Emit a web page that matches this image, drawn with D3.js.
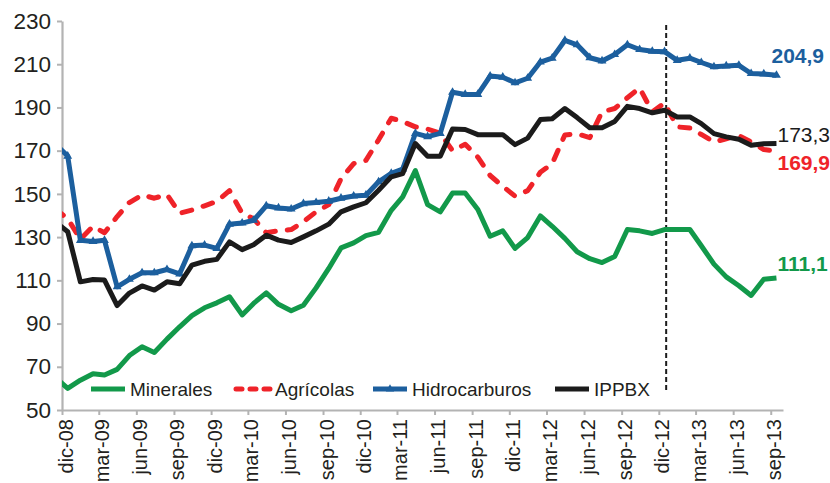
<!DOCTYPE html>
<html>
<head>
<meta charset="utf-8">
<script src="https://cdn.jsdelivr.net/npm/d3@7"></script>
<style>
  body { margin: 0; background: #fff; }
  text { font-family: "Liberation Sans", Arial, sans-serif; }
</style>
</head>
<body>
<div id="chart"></div>
<script>
// monthly series, nov-08 .. sep-13 (nov-08 sits left of the axis and gets clipped)
const months = ["nov-08","dic-08",
  "ene-09","feb-09","mar-09","abr-09","may-09","jun-09","jul-09","ago-09","sep-09","oct-09","nov-09","dic-09",
  "ene-10","feb-10","mar-10","abr-10","may-10","jun-10","jul-10","ago-10","sep-10","oct-10","nov-10","dic-10",
  "ene-11","feb-11","mar-11","abr-11","may-11","jun-11","jul-11","ago-11","sep-11","oct-11","nov-11","dic-11",
  "ene-12","feb-12","mar-12","abr-12","may-12","jun-12","jul-12","ago-12","sep-12","oct-12","nov-12","dic-12",
  "ene-13","feb-13","mar-13","abr-13","may-13","jun-13","jul-13","ago-13","sep-13"];

const minerales = [65, 60, 63.8, 66.8, 66.2, 68.8, 75.2, 79.3, 76.6, 82.8, 88.5, 93.7, 97.3, 99.6,
  102.4, 94, 99.3, 104.2, 98.9, 95.9, 98.5, 106.5, 115.5, 125, 127.3, 130.7,
  132.2, 142.4, 148.6, 160.8, 145, 141.7, 150.4, 150.4, 142.8, 130.4, 132.9, 124.8,
  129.8, 139.8, 135, 129.4, 123.2, 120, 118.2, 121, 133.5, 132.9, 131.7, 133.5,
  133.5, 133.5, 126, 117.5, 111.6, 107.5, 103, 110.5, 111.1];

const agricolas = [143, 138.5, 129, 135, 132, 139.5, 146, 149.5, 148, 149.7, 141, 142.5, 144.5, 146.5,
  151.5, 141, 138.5, 132, 132.9, 133.5, 137.1, 141.7, 145, 157, 164, 165.5,
  175, 185, 183.5, 181, 180, 178, 170, 173, 167, 158.5, 153.5, 149,
  151.5, 160, 164, 177.3, 177.8, 176, 188, 189.5, 194.5, 199, 188, 192,
  181, 180.5, 177.5, 174, 175.5, 177, 174, 170.5, 169.9];

const hidrocarburos = [173, 167.5, 128.5, 128, 128.5, 107, 110.5, 113.5, 113.5, 115, 113, 126, 126.3, 124.8,
  136, 136.5, 137.8, 144.5, 143.5, 143, 145.5, 146, 146.6, 148, 149, 149.4,
  155.6, 159.5, 161.5, 178, 176.5, 178, 197, 196, 196, 204.5, 204, 201.4,
  203.5, 211, 212.8, 221, 219, 213, 211.5, 214.5, 219, 216.8, 216, 215.8,
  211.8, 212.8, 210.8, 208.8, 209.2, 209.5, 205.7, 205.5, 204.9];

const ippbx = [137, 132.5, 109.3, 110.4, 110.1, 98.3, 104.1, 107.4, 105.5, 109.3, 108.4, 117, 118.8, 119.7,
  127.8, 124.2, 126.5, 130.9, 128.6, 127.5, 130.1, 132.9, 136, 141.7, 144, 145.9,
  151.7, 157.9, 159.4, 173.3, 167.4, 167.4, 180, 179.8, 177.4, 177.4, 177.4, 172.8,
  175.8, 184.4, 184.8, 189.5, 185.3, 180.6, 180.6, 183.5, 190.5, 189.5, 187.5, 188.7,
  185.6, 185.6, 182.5, 177.9, 176.4, 175.3, 172.5, 173.2, 173.3];

const tickLabels = ["dic-08","mar-09","jun-09","sep-09","dic-09","mar-10","jun-10","sep-10","dic-10",
  "mar-11","jun-11","sep-11","dic-11","mar-12","jun-12","sep-12","dic-12","mar-13","jun-13","sep-13"];
const yTicks = [50, 70, 90, 110, 130, 150, 170, 190, 210, 230];

const axisStart = "dic-08", axisEnd = "oct-13", cutMonth = "dic-12";

const esMonths = ["ene","feb","mar","abr","may","jun","jul","ago","sep","oct","nov","dic"];
function parseMonth(s, day) {
    const parts = s.split("-");
    return new Date(2000 + +parts[1], esMonths.indexOf(parts[0]), day);
}

const series = [
    {name: "Minerales", values: minerales, color: "#12994a", label: "111,1", bold: true, dy: -7},
    {name: "Agrícolas", values: agricolas, color: "#ef2329", dash: true, label: "169,9", bold: true, dy: 19},
    {name: "Hidrocarburos", values: hidrocarburos, color: "#1c5f9e", marker: true, label: "204,9", bold: true, dy: -12, dx: -5},
    {name: "IPPBX", values: ippbx, color: "#1b1b1b", label: "173,3", bold: false, dy: -2}
];

const width = 830, height = 483;
const margin = {top: 21, left: 62, bottom: 73, right: 47};
const textColor = "#231f20";

const svg = d3.select("#chart").append("svg")
    .attr("width", width)
    .attr("height", height);

const x = d3.scaleTime()
    .domain([parseMonth(axisStart, 1), parseMonth(axisEnd, 1)])
    .range([margin.left, width - margin.right]);

const y = d3.scaleLinear()
    .domain([50, 230])
    .range([height - margin.bottom, margin.top]);

svg.append("clipPath").attr("id", "plotClip")
    .append("rect")
    .attr("x", margin.left).attr("y", 0)
    .attr("width", width - margin.right - margin.left + 10)
    .attr("height", height);

// axes
const yAxis = svg.append("g")
    .attr("transform", "translate(" + margin.left + ",0)")
    .call(d3.axisLeft(y).tickValues(yTicks).tickSize(5).tickSizeOuter(0).tickPadding(6));

const xAxis = svg.append("g")
    .attr("transform", "translate(0," + (height - margin.bottom) + ")")
    .call(d3.axisBottom(x)
        .tickValues(tickLabels.map(d => parseMonth(d, 1)))
        .tickFormat((d, i) => tickLabels[i])
        .tickSize(5).tickSizeOuter(0));

[xAxis, yAxis].forEach(function (a) {
    a.select(".domain").attr("stroke", "#b3b3b3").attr("stroke-width", 2.2);
    a.selectAll(".tick line").attr("stroke", "#b3b3b3").attr("stroke-width", 2);
});

yAxis.selectAll("text")
    .style("font-size", "22.5px")
    .attr("fill", textColor);

xAxis.selectAll("text")
    .style("font-size", "20px")
    .style("text-anchor", "end")
    .attr("fill", textColor)
    .attr("x", -9)
    .attr("y", 0)
    .attr("dy", "0.5em")
    .attr("transform", "rotate(-90)");

// vertical dashed marker
svg.append("line")
    .attr("x1", x(parseMonth(cutMonth, 19)))
    .attr("x2", x(parseMonth(cutMonth, 19)))
    .attr("y1", 25)
    .attr("y2", 391)
    .attr("stroke", "#1b1b1b")
    .attr("stroke-width", 2)
    .attr("stroke-dasharray", "5,3");

const dates = months.map(d => parseMonth(d, 15));

const line = d3.line()
    .x(d => x(d.date))
    .y(d => y(d.value));

const lines_g = svg.append("g").attr("clip-path", "url(#plotClip)");

// draw order: minerales, agricolas, hidrocarburos, ippbx
series.forEach(function (s) {
    const data = s.values.map((v, i) => ({date: dates[i], value: v}));
    lines_g.append("path")
        .datum(data)
        .attr("fill", "none")
        .attr("stroke", s.color)
        .attr("stroke-width", 5)
        .attr("stroke-linejoin", "round")
        .attr("stroke-linecap", s.dash ? "round" : "butt")
        .attr("stroke-dasharray", s.dash ? "10,12" : null)
        .attr("d", line);

    if (s.marker) {
        lines_g.selectAll(".marker")
            .data(data.slice(1))
            .enter()
            .append("path")
            .attr("class", "marker")
            .attr("d", d3.symbol().type(d3.symbolTriangle).size(34))
            .attr("transform", d => "translate(" + x(d.date) + "," + y(d.value) + ")")
            .attr("fill", s.color);
    }

    const last = data[data.length - 1];
    svg.append("text")
        .attr("x", x(last.date) + (s.dx || 1))
        .attr("y", y(last.value) + s.dy)
        .attr("fill", s.color)
        .style("font-size", "21px")
        .style("font-weight", s.bold ? "bold" : "normal")
        .text(s.label);
});

// legend
const legendItems = [
    {s: series[0], x0: 91},
    {s: series[1], x0: 236},
    {s: series[2], x0: 373},
    {s: series[3], x0: 555}
];
const legendY = 389;

const legend = svg.append("g");
legendItems.forEach(function (item) {
    const s = item.s;
    legend.append("line")
        .attr("x1", item.x0).attr("x2", item.x0 + 34)
        .attr("y1", legendY).attr("y2", legendY)
        .attr("stroke", s.color)
        .attr("stroke-width", 5)
        .attr("stroke-linecap", s.dash ? "round" : "butt")
        .attr("stroke-dasharray", s.dash ? "6,8" : null);
    if (s.marker) {
        legend.append("path")
            .attr("d", d3.symbol().type(d3.symbolTriangle).size(30))
            .attr("transform", "translate(" + (item.x0 + 17) + "," + legendY + ")")
            .attr("fill", s.color);
    }
    legend.append("text")
        .attr("x", item.x0 + 39)
        .attr("y", legendY + 7)
        .attr("fill", textColor)
        .style("font-size", "19px")
        .text(s.name);
});
</script>
</body>
</html>
